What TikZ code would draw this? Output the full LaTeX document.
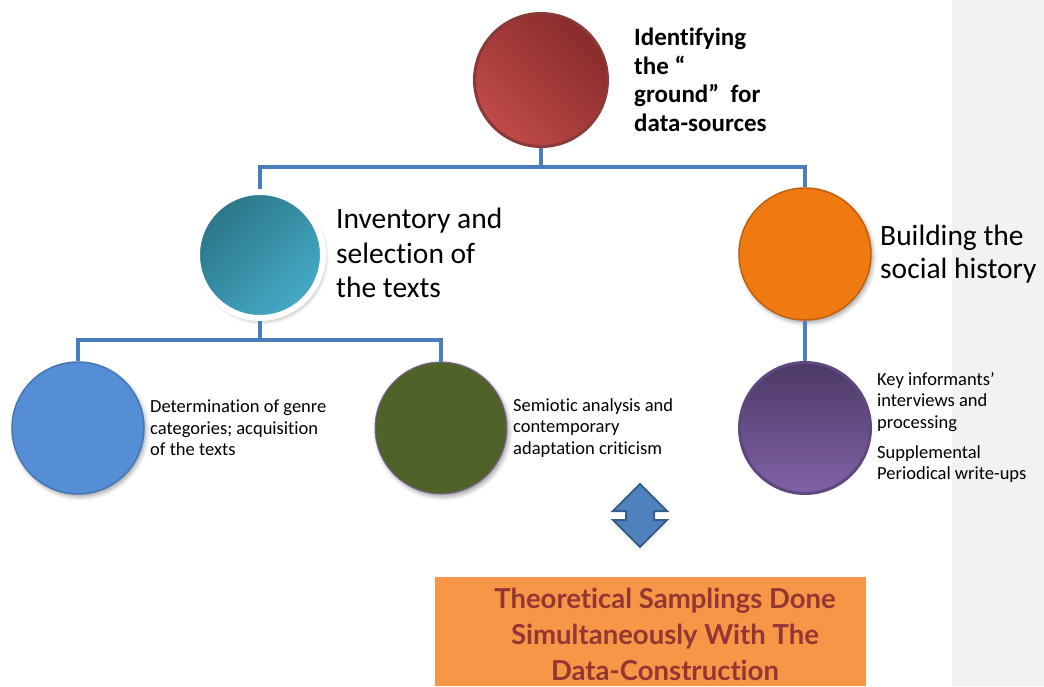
\documentclass[tikz,border=0pt]{standalone}
\usepackage{fontspec}
\setmainfont[Ligatures=NoCommon]{Carlito}
\newfontfamily\notefont[Ligatures=NoCommon]{Lato}
\usetikzlibrary{shadows,shadows.blur}

\definecolor{sidegray}{HTML}{F2F2F2}
\definecolor{linkblue}{HTML}{4A7EBB}
\definecolor{redlight}{HTML}{C04B48}
\definecolor{reddark}{HTML}{882B2B}
\definecolor{redrim}{HTML}{8C3836}
\definecolor{teallight}{HTML}{45AAC6}
\definecolor{tealdark}{HTML}{2B7688}
\definecolor{orangefill}{HTML}{F07A12}
\definecolor{orangerim}{HTML}{C0600C}
\definecolor{bluefill}{HTML}{558ED5}
\definecolor{bluerim}{HTML}{4676B4}
\definecolor{olivefill}{HTML}{4F6228}
\definecolor{oliverim}{HTML}{8064A2}
\definecolor{purpletop}{HTML}{4C3966}
\definecolor{purplebottom}{HTML}{8062A6}
\definecolor{purplerim}{HTML}{5D4880}
\definecolor{arrowfill}{HTML}{4F81BD}
\definecolor{arrowrim}{HTML}{385D8A}
\definecolor{boxorange}{HTML}{F79646}
\definecolor{boxtext}{HTML}{943634}

\tikzset{
  bubble/.style={circle, inner sep=0pt},
  softshadow/.style={blur shadow={shadow xshift=2pt, shadow yshift=-3pt,
      shadow blur radius=4pt, shadow opacity=35}},
  link/.style={draw=linkblue, line width=3.5pt},
  label/.style={anchor=west, align=left, inner sep=0pt, text=black},
  bigtext/.style={label, font=\fontsize{29.5}{34.5}\selectfont},
  smalltext/.style={label, font=\fontsize{18.5}{21.5}\selectfont},
}

\begin{document}
\begin{tikzpicture}[x=1pt, y=-1pt]
\useasboundingbox (0,0) rectangle (1044,686);
\fill[sidegray] (952,0) rectangle (1044,686);

% circles
\node[bubble, minimum size=133, draw=redrim, line width=3pt,
      top color=reddark, bottom color=redlight, shading angle=-45] (ground) at (541,80) {};
\node[bubble, minimum size=126, draw=white, line width=6pt, softshadow,
      top color=tealdark, bottom color=teallight, shading angle=45] (inventory) at (260,255) {};
\node[bubble, minimum size=132, draw=orangerim, line width=1.5pt, fill=orangefill, softshadow] (history) at (805,254) {};
\node[bubble, minimum size=132, draw=bluerim, line width=1.5pt, fill=bluefill, softshadow] (genre) at (78,428) {};
\node[bubble, minimum size=132, draw=oliverim, line width=1pt, fill=olivefill, softshadow] (semiotic) at (441,428) {};
\node[bubble, minimum size=131, draw=purplerim, line width=3pt,
      top color=purpletop, bottom color=purplebottom] (informants) at (805,428) {};

% connectors
\coordinate (bus1) at (541,167);
\coordinate (bus2) at (260,340);
\draw[link] (ground.south) -- (bus1);
\draw[link] (inventory.north) |- (bus1) -| (history.north);
\draw[link] (inventory.south) -- (bus2);
\draw[link] (genre.north) |- (bus2) -| (semiotic.north);
\draw[link] (history.south) -- (informants.north);

% labels
\node[label, font=\bfseries\fontsize{25}{28.5}\selectfont] (groundtxt) at (634,80)
  {Identifying\\the “\\ground”\ \ for\\data-sources};
\node[bigtext] (inventorytxt) at (336,253) {Inventory and\\selection of\\the texts};
\node[label, font=\fontsize{29.5}{33}\selectfont] (historytxt) at (880,254) {Building the\\social history};
\node[smalltext] (genretxt) at (150,428) {Determination of genre\\categories; acquisition\\of the texts};
\node[smalltext] (semiotictxt) at (513,428) {Semiotic analysis and\\contemporary\\adaptation criticism};
\node[smalltext] (informantstxt) at (877,427.5)
  {Key informants’\\interviews and\\processing\\[8.5pt]Supplemental\\Periodical write-ups};

% two-way arrow
\coordinate (swap) at (640,515.5);
\draw[fill=arrowfill, draw=arrowrim, line width=2pt, line join=miter, shift={(swap)}]
  (0,-31.5) -- (27,-4.5) -- (14,-4.5) -- (14,4.5) -- (27,4.5) -- (0,31.5)
  -- (-27,4.5) -- (-14,4.5) -- (-14,-4.5) -- (-27,-4.5) -- cycle;

% note box
\node[fill=boxorange, minimum width=431, minimum height=109, inner sep=0pt, anchor=north west] (notebox) at (435,577) {};
\node[align=center, inner sep=0pt, text=boxtext,
      font=\notefont\bfseries\fontsize{27.5}{36}\selectfont] (notetxt) at (665,634)
  {Theoretical Samplings Done\\Simultaneously With The\\Data-Construction};
\end{tikzpicture}
\end{document}
